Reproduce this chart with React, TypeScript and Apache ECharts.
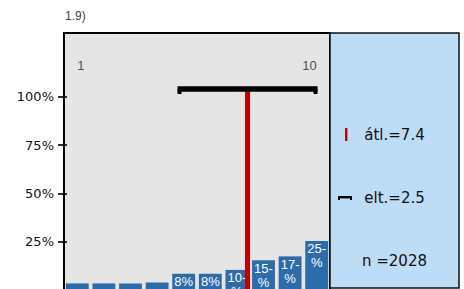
import React, { useEffect, useRef } from "react";
import * as echarts from "echarts";

const categories = ["1", "2", "3", "4", "5", "6", "7", "8", "9", "10"];
const shares = [3.4, 3.4, 3.4, 3.9, 8.4, 8.4, 10.4, 15.4, 17.4, 25.4];
const yTicks = [25, 50, 75, 100];
const scaleEnds = [1, 10];
const MEAN = 7.4;
const SD = 2.5;
const N = 2028;
const topNote = "1.9)";

const SANS_W = "DejaVu Sans, Verdana, sans-serif";
const SANS = "Liberation Sans, Arial, Helvetica, sans-serif";

export default function App() {
  const ref = useRef<HTMLDivElement>(null);
  useEffect(() => {
    if (!ref.current) return;
    const chart = echarts.init(ref.current, null, { renderer: "svg" });
    const errY = 104;
    const labelY = 116;
    const panelX = 330;
    const panelW = 129;
    const panelCx = panelX + panelW / 2;
    chart.setOption({
      animation: false,
      grid: {
        left: 64,
        right: 134,
        top: 33,
        bottom: 2,
        show: true,
        backgroundColor: "#e5e5e5",
        borderColor: "#000",
        borderWidth: 2,
      },
      xAxis: [
        { type: "category", data: categories, show: false },
        { type: "value", min: 0.5, max: 10.5, show: false },
      ],
      yAxis: [
        {
          type: "value",
          min: 0,
          max: 133,
          interval: 25,
          position: "left",
          splitLine: { show: false },
          axisLine: { show: true, lineStyle: { color: "#000", width: 2 } },
          axisTick: {
            show: true,
            length: 6,
            customValues: yTicks,
            lineStyle: { color: "#000", width: 1.6 },
          },
          axisLabel: {
            customValues: yTicks,
            formatter: (v: number) => (yTicks.includes(v) ? v + "%" : ""),
            margin: 10,
            color: "#111",
            fontSize: 13,
            fontFamily: SANS_W,
          },
        },
        {
          type: "value",
          min: 0,
          max: 133,
          interval: 25,
          position: "left",
          splitLine: { show: false },
          axisLine: { show: false },
          axisTick: {
            show: true,
            inside: true,
            length: 3,
            customValues: yTicks,
            lineStyle: { color: "#000", width: 1.6 },
          },
          axisLabel: { show: false },
        },
      ],
      series: [
        {
          type: "bar",
          xAxisIndex: 0,
          yAxisIndex: 0,
          data: shares,
          barWidth: "86%",
          itemStyle: { color: "#2d6ca8" },
          z: 2,
          label: {
            show: true,
            position: "insideTop",
            distance: 1,
            color: "#fff",
            fontSize: 13,
            lineHeight: 14,
            fontFamily: SANS,
            formatter: (p: any) => {
              const v = Math.round(p.value);
              if (p.value < 5) return "";
              return v < 10 ? v + "%" : v + "-\n%";
            },
          },
        },
        {
          type: "custom",
          xAxisIndex: 1,
          yAxisIndex: 0,
          z: 4,
          data: [[MEAN, SD, errY]],
          renderItem: (params: any, api: any) => {
            const m = api.value(0);
            const sd = api.value(1);
            const h = api.value(2);
            const base = api.coord([m, 0]);
            const top = api.coord([m, h]);
            const l = api.coord([m - sd, h]);
            const r = api.coord([m + sd, h]);
            const ext = 3.5;
            const Lx = l[0] - ext;
            const Rx = r[0] + ext;
            const yh = l[1];
            return {
              type: "group",
              children: [
                {
                  type: "line",
                  shape: { x1: base[0], y1: base[1] + 5, x2: top[0], y2: top[1] },
                  style: { stroke: "#c00000", lineWidth: 5 },
                },
                {
                  type: "rect",
                  shape: { x: Lx, y: yh - 2.8, width: Rx - Lx, height: 5.6 },
                  style: { fill: "#000" },
                },
                {
                  type: "rect",
                  shape: { x: Lx, y: yh, width: 4, height: 5 },
                  style: { fill: "#000" },
                },
                {
                  type: "rect",
                  shape: { x: Rx - 4, y: yh, width: 4, height: 5 },
                  style: { fill: "#000" },
                },
              ],
            };
          },
        },
        {
          type: "scatter",
          xAxisIndex: 1,
          yAxisIndex: 0,
          symbolSize: 1,
          itemStyle: { color: "rgba(0,0,0,0)" },
          z: 3,
          data: scaleEnds.map((v, i) => ({
            value: [v, labelY],
            label: { align: i === 0 ? "left" : "right" },
          })),
          label: {
            show: true,
            position: "inside",
            color: "#222",
            fontSize: 13,
            fontFamily: SANS,
            formatter: (p: any) => String(p.value[0]),
          },
        },
      ],
      graphic: [
        {
          type: "rect",
          z: 1,
          shape: { x: panelX, y: 33, width: panelW, height: 255 },
          style: { fill: "#bddcf5", stroke: "#111", lineWidth: 1.5 },
        },
        {
          type: "text",
          z: 5,
          x: 65,
          y: 16,
          style: {
            text: topNote,
            fill: "#444",
            fontSize: 12,
            fontFamily: SANS,
            textVerticalAlign: "middle",
          },
        },
        {
          type: "rect",
          z: 5,
          shape: { x: 345, y: 128, width: 2.4, height: 13 },
          style: { fill: "#c00000" },
        },
        {
          type: "text",
          z: 5,
          x: panelCx,
          y: 135,
          style: {
            text: "átl.=" + MEAN,
            fill: "#111",
            fontSize: 15,
            fontFamily: SANS_W,
            textAlign: "center",
            textVerticalAlign: "middle",
          },
        },
        {
          type: "rect",
          z: 5,
          shape: { x: 338, y: 196, width: 14, height: 2.4 },
          style: { fill: "#000" },
        },
        {
          type: "rect",
          z: 5,
          shape: { x: 338, y: 196, width: 2, height: 4 },
          style: { fill: "#000" },
        },
        {
          type: "rect",
          z: 5,
          shape: { x: 350, y: 196, width: 2, height: 4 },
          style: { fill: "#000" },
        },
        {
          type: "text",
          z: 5,
          x: panelCx,
          y: 198,
          style: {
            text: "elt.=" + SD,
            fill: "#111",
            fontSize: 15,
            fontFamily: SANS_W,
            textAlign: "center",
            textVerticalAlign: "middle",
          },
        },
        {
          type: "text",
          z: 5,
          x: panelCx,
          y: 261,
          style: {
            text: "n =" + N,
            fill: "#111",
            fontSize: 15,
            fontFamily: SANS_W,
            textAlign: "center",
            textVerticalAlign: "middle",
          },
        },
      ],
    });
    return () => chart.dispose();
  }, []);
  return (
    <div
      style={{
        position: "fixed",
        left: 0,
        top: 0,
        width: 464,
        height: 289,
        overflow: "hidden",
        background: "#fff",
      }}
    >
      <div ref={ref} style={{ width: 464, height: 292 }} />
    </div>
  );
}
